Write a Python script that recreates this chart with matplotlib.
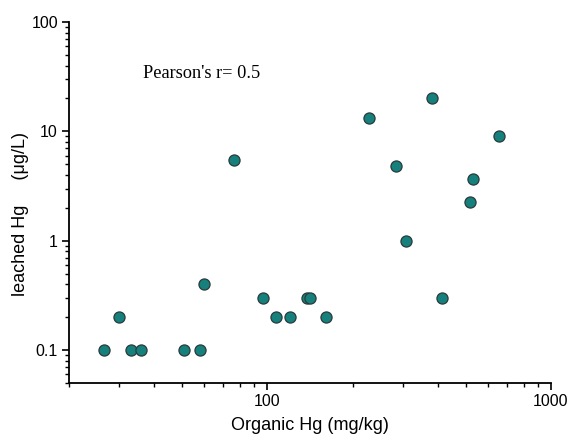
import numpy as np
import matplotlib.pyplot as plt
from matplotlib.ticker import LogLocator, NullFormatter, FixedLocator, FixedFormatter

# organic Hg (mg/kg) vs leached Hg (ug/L)
organic_hg = [26.5, 30.1, 33.1, 35.9, 50.9, 58.0, 59.6, 76.6, 96.4, 107.3,
              120.1, 138.0, 141.5, 161.1, 228.0, 285.0, 309.0, 382.0, 414.0,
              517.0, 529.0, 655.0]
leached_hg = [0.1, 0.2, 0.1, 0.1, 0.1, 0.1, 0.4, 5.5, 0.3, 0.2,
              0.2, 0.3, 0.3, 0.2, 13.2, 4.85, 1.0, 20.0, 0.3,
              2.28, 3.68, 9.0]

x_ticks = [100, 1000]
x_ticklabels = ["100", "1000"]
y_ticks = [0.1, 1, 10, 100]
y_ticklabels = ["0.1", "1", "10", "100"]

plt.rcParams['font.family'] = ['Liberation Sans', 'DejaVu Sans']

fig = plt.figure(figsize=(5.7, 4.38), dpi=100)
ax = fig.add_axes([69/570, (438-383)/438, (551-69)/570, (383-22)/438])

ax.plot(organic_hg, leached_hg, 'o', markersize=8, markerfacecolor='#16807c',
        markeredgecolor='#2b3b3b', markeredgewidth=0.9, clip_on=False)

ax.set_xscale('log')
ax.set_yscale('log')
ax.set_xlim(20, 1000)
ax.set_ylim(0.05, 100)

ax.xaxis.set_major_locator(FixedLocator(x_ticks))
ax.xaxis.set_major_formatter(FixedFormatter(x_ticklabels))
ax.yaxis.set_major_locator(FixedLocator(y_ticks))
ax.yaxis.set_major_formatter(FixedFormatter(y_ticklabels))
for a in (ax.xaxis, ax.yaxis):
    a.set_minor_locator(LogLocator(base=10, subs=np.arange(2, 10)))
    a.set_minor_formatter(NullFormatter())

for s in ['top', 'right']:
    ax.spines[s].set_visible(False)
for s in ['left', 'bottom']:
    ax.spines[s].set_linewidth(1.3)

ax.tick_params(which='major', direction='out', length=5, width=1.2, labelsize=11.5, pad=3)
ax.tick_params(which='minor', direction='out', length=3, width=1.0)

ax.set_xlabel("Organic Hg (mg/kg)", fontsize=13, labelpad=6)
ax.set_ylabel("leached Hg     (\u03bcg/L)", fontsize=13)
ax.yaxis.set_label_coords(-0.083, 0.468)

ax.text(143/570, 1 - 74/438, "Pearson's r= 0.5", transform=fig.transFigure,
        family='Liberation Serif', fontsize=13.2, va='center', ha='left')

fig.savefig("out.png", dpi=100)
